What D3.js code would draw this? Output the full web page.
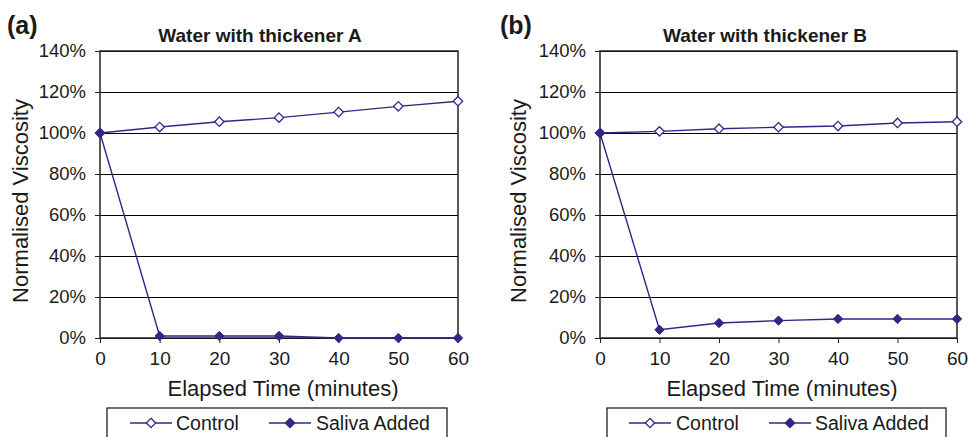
<!DOCTYPE html>
<html>
<head>
<meta charset="utf-8">
<script src="https://cdn.jsdelivr.net/npm/d3@7"></script>
<style>
  body { margin: 0; background: #fff; }
  svg { display: block; font-family: 'Liberation Sans', Arial, sans-serif; }
</style>
</head>
<body>
<script>
// data (fractions of initial viscosity)
var times = [0, 10, 20, 30, 40, 50, 60]
var controlA = [1.00, 1.029, 1.055, 1.075, 1.102, 1.13, 1.155]
var salivaA = [1.00, 0.01, 0.01, 0.01, 0.0, 0.0, 0.0]
var controlB = [1.00, 1.008, 1.021, 1.028, 1.034, 1.049, 1.055]
var salivaB = [1.00, 0.04, 0.073, 0.085, 0.093, 0.093, 0.093]
var yTicks = [0, 0.2, 0.4, 0.6, 0.8, 1.0, 1.2, 1.4]
var xTicks = [0, 10, 20, 30, 40, 50, 60]
var seriesNames = ['Control', 'Saliva Added']

var lineColor = '#2f2888'

var svg = d3.select('body').append('svg')
  .attr('width', 970)
  .attr('height', 437)

// one panel per thickener
var panels = [
  { tag: '(a)', title: 'Water with thickener A', control: controlA, saliva: salivaA,
    left: 100, right: 458, tagX: 7, titleX: 260, yLabelX: 28, xLabelX: 283,
    legend: { x: 107, w: 340, line1: 130, text1: 176, line2: 269, text2: 316 } },
  { tag: '(b)', title: 'Water with thickener B', control: controlB, saliva: salivaB,
    left: 600, right: 957, tagX: 500, titleX: 765, yLabelX: 526, xLabelX: 782,
    legend: { x: 607, w: 339, line1: 629, text1: 676, line2: 769, text2: 815 } }
]

var plotTop = 51
var plotBottom = 338

panels.forEach(function (p) {
  var x = d3.scaleLinear().domain([0, 60]).range([p.left, p.right])
  var y = d3.scaleLinear().domain([0, 1.4]).range([plotBottom, plotTop])
  var g = svg.append('g')

  // gridlines
  g.append('g')
    .attr('transform', 'translate(' + p.left + ',0)')
    .call(d3.axisLeft(y).tickValues(yTicks).tickSize(-(p.right - p.left)).tickFormat(''))
    .call(function (s) {
      s.select('.domain').remove()
      s.selectAll('line').attr('stroke', '#000').attr('stroke-width', 1)
    })

  // plot frame
  g.append('rect')
    .attr('x', p.left)
    .attr('y', plotTop)
    .attr('width', p.right - p.left)
    .attr('height', plotBottom - plotTop)
    .attr('fill', 'none')
    .attr('stroke', '#222')
    .attr('stroke-width', 1.5)

  // y axis
  g.append('g')
    .attr('transform', 'translate(' + p.left + ',0)')
    .call(d3.axisLeft(y).tickValues(yTicks).tickSize(5).tickPadding(9).tickFormat(d3.format('.0%')))
    .call(function (s) {
      s.select('.domain').remove()
      s.selectAll('line').attr('stroke', '#222')
      s.selectAll('text').attr('font-size', 18.5).attr('fill', '#1a1a1a')
        .attr('font-family', 'Liberation Sans, Arial, sans-serif')
    })

  // x axis
  g.append('g')
    .attr('transform', 'translate(0,' + plotBottom + ')')
    .call(d3.axisBottom(x).tickValues(xTicks).tickSize(5).tickPadding(9))
    .call(function (s) {
      s.select('.domain').remove()
      s.selectAll('line').attr('stroke', '#222')
      s.selectAll('text').attr('font-size', 19).attr('fill', '#1a1a1a')
        .attr('font-family', 'Liberation Sans, Arial, sans-serif')
    })

  var line = d3.line()
    .x(function (d, i) { return x(times[i]) })
    .y(function (d) { return y(d) })

  var diamond = d3.symbol().type(d3.symbolDiamond2).size(56)

  // control series (hollow diamonds)
  g.append('path')
    .attr('d', line(p.control))
    .attr('fill', 'none')
    .attr('stroke', lineColor)
    .attr('stroke-width', 1.4)

  g.selectAll('.ctrl')
    .data(p.control)
    .enter().append('path')
    .attr('class', 'ctrl')
    .attr('transform', function (d, i) { return 'translate(' + x(times[i]) + ',' + y(d) + ')' })
    .attr('d', diamond)
    .attr('fill', '#fff')
    .attr('stroke', lineColor)
    .attr('stroke-width', 1.3)

  // saliva series (filled diamonds)
  g.append('path')
    .attr('d', line(p.saliva))
    .attr('fill', 'none')
    .attr('stroke', lineColor)
    .attr('stroke-width', 1.4)

  g.selectAll('.sal')
    .data(p.saliva)
    .enter().append('path')
    .attr('class', 'sal')
    .attr('transform', function (d, i) { return 'translate(' + x(times[i]) + ',' + y(d) + ')' })
    .attr('d', diamond)
    .attr('fill', lineColor)
    .attr('stroke', lineColor)
    .attr('stroke-width', 1)

  // panel tag and title
  g.append('text')
    .attr('x', p.tagX)
    .attr('y', 34)
    .attr('font-size', 25)
    .attr('font-weight', 'bold')
    .attr('fill', '#1a1a1a')
    .text(p.tag)

  g.append('text')
    .attr('x', p.titleX)
    .attr('y', 42)
    .attr('text-anchor', 'middle')
    .attr('font-size', 19)
    .attr('font-weight', 'bold')
    .attr('fill', '#1a1a1a')
    .text(p.title)

  // axis titles
  g.append('text')
    .attr('transform', 'translate(' + p.yLabelX + ',201) rotate(-90)')
    .attr('text-anchor', 'middle')
    .attr('font-size', 22)
    .attr('fill', '#1a1a1a')
    .text('Normalised Viscosity')

  g.append('text')
    .attr('x', p.xLabelX)
    .attr('y', 396)
    .attr('text-anchor', 'middle')
    .attr('font-size', 22)
    .attr('fill', '#1a1a1a')
    .text('Elapsed Time (minutes)')

  // legend
  var lg = g.append('g')
  lg.append('rect')
    .attr('x', p.legend.x)
    .attr('y', 408)
    .attr('width', p.legend.w)
    .attr('height', 40)
    .attr('fill', '#fff')
    .attr('stroke', '#222')
    .attr('stroke-width', 1.3)

  var items = [
    { name: seriesNames[0], lx: p.legend.line1, tx: p.legend.text1, fill: '#fff' },
    { name: seriesNames[1], lx: p.legend.line2, tx: p.legend.text2, fill: lineColor }
  ]
  items.forEach(function (it) {
    lg.append('line')
      .attr('x1', it.lx).attr('x2', it.lx + 42)
      .attr('y1', 423).attr('y2', 423)
      .attr('stroke', lineColor)
      .attr('stroke-width', 1.4)
    lg.append('path')
      .attr('transform', 'translate(' + (it.lx + 21) + ',423)')
      .attr('d', diamond)
      .attr('fill', it.fill)
      .attr('stroke', lineColor)
      .attr('stroke-width', 1.3)
    lg.append('text')
      .attr('x', it.tx)
      .attr('y', 430)
      .attr('font-size', 19.5)
      .attr('fill', '#1a1a1a')
      .text(it.name)
  })
})
</script>
</body>
</html>
